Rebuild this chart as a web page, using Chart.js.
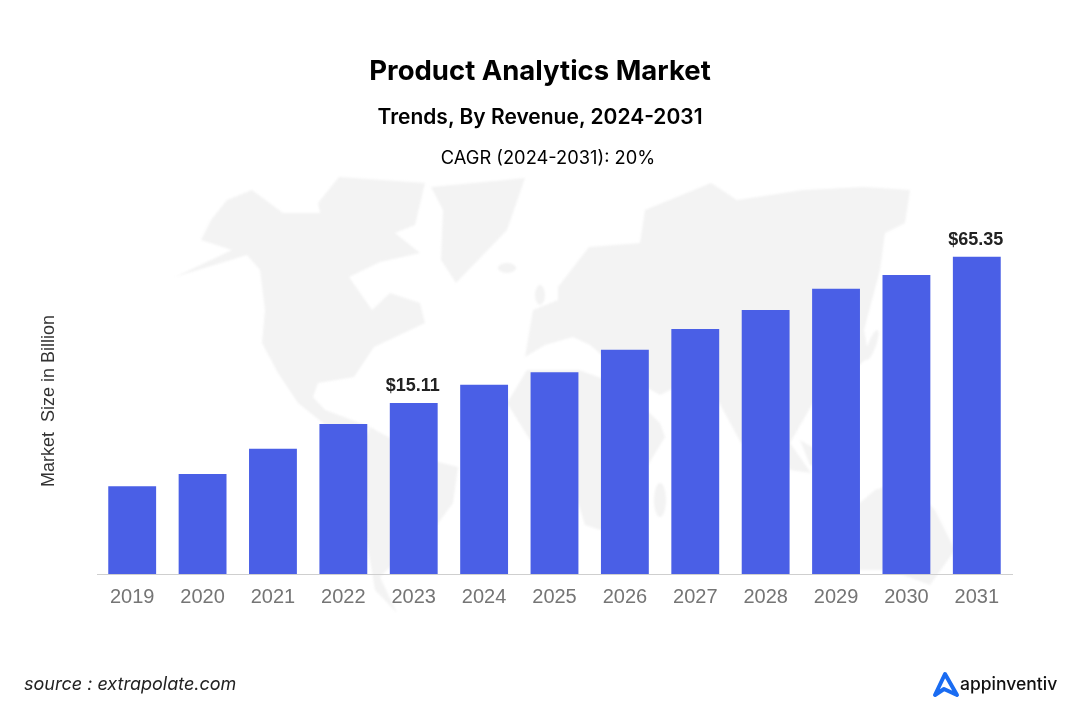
<!DOCTYPE html>
<html>
<head>
<meta charset="utf-8">
<title>Product Analytics Market</title>
<script src="https://cdn.jsdelivr.net/npm/chart.js@4/dist/chart.umd.min.js"></script>
<style>
  html, body { margin: 0; padding: 0; background: #fff; }
  #page { position: relative; width: 1080px; height: 722px; overflow: hidden; }
  #map, #chart, #logo { position: absolute; left: 0; top: 0; }
  .txt { position: absolute; left: 0; width: 1080px; text-align: center; color: #000; font-family: Inter, sans-serif; white-space: nowrap; }
  #head1 { top: 52px; font-size: 27.5px; font-weight: 700; line-height: 36px; }
  #head2 { top: 103px; font-size: 21px; font-weight: 600; line-height: 28px; }
  #head3 { top: 145px; left: 8px; font-size: 18.3px; font-weight: 400; line-height: 24px; }
  #source { top: 672px; left: 24px; width: auto; font-size: 18px; font-style: italic; color: #222; line-height: 24px; }
  #brand { top: 671px; left: 960px; width: auto; font-size: 17.5px; font-weight: 500; color: #111; line-height: 26px; }
</style>
</head>
<body>
<div id="page">
  <svg id="map" width="1080" height="722" fill="#f3f3f3" style="filter: blur(0.8px)">
    <path d="M252 190 L227 200 L211 220 L201 240 L232 250 L175 277 L247 255 L260 270 L265 310 L262 343 L278 373 L298 403 L323 423 L339 437 L370 427 L352 420 L325 410 L313 397 L318 383 L354 377 L374 347 L425 323 L420 303 L390 293 L372 310 L349 277 L380 262 L420 253 L395 233 L323 213 L283 213 Z"/>
    <path d="M318 203 L339 177 L425 183 L415 225 L385 237 L323 227 Z"/>
    <path d="M431 187 L525 178 L507 230 L456 283 L441 260 L443 210 Z"/>
    <ellipse cx="507" cy="268" rx="9" ry="5"/>
    <path d="M864 187 L910 190 L905 223 L885 233 L880 270 L864 330 L869 357 L813 403 L790 443 L811 473 L790 470 L770 420 L741 443 L715 395 L680 385 L660 395 L625 375 L590 345 L573 337 L545 345 L525 357 L533 310 L558 300 L558 287 L589 247 L640 243 L645 210 L711 183 L737 200 L803 190 Z"/>
    <path d="M507 403 L527 370 L579 370 L620 385 L660 423 L665 437 L645 470 L638 500 L600 530 L585 525 L565 460 L530 440 Z"/>
    <ellipse cx="660" cy="500" rx="6" ry="17"/>
    <path d="M370 427 L430 460 L458 467 L453 503 L433 530 L400 557 L380 577 L397 613 L375 590 L365 530 L367 503 L358 460 Z"/>
    <path d="M840 520 L875 490 L905 480 L935 510 L955 550 L930 585 L890 570 L850 570 Z"/>
    <path d="M800 440 L850 470 L860 480 L810 465 Z"/>
    <ellipse cx="540" cy="295" rx="5" ry="10"/>
    <ellipse cx="872" cy="345" rx="4" ry="16" transform="rotate(20 872 345)"/>
  </svg>
  <canvas id="chart" width="1080" height="722"></canvas>
  <div class="txt" id="head1">Product Analytics Market</div>
  <div class="txt" id="head2">Trends, By Revenue, 2024-2031</div>
  <div class="txt" id="head3">CAGR (2024-2031): 20%</div>
  <div class="txt" id="source">source : extrapolate.com</div>
  <svg id="logo" width="1080" height="722" fill="none">
    <path d="M935 695 L945 674 L957 695 L944 689 Z" stroke="#1a6cf2" stroke-width="4" stroke-linejoin="round"/>
  </svg>
  <div class="txt" id="brand">appinventiv</div>
</div>
<script>
var years = ['2019', '2020', '2021', '2022', '2023', '2024', '2025', '2026', '2027', '2028', '2029', '2030', '2031'];
// on the scale of the 2031 bar. the printed $15.11 does not fit that scale
var revenue = [18.1, 20.6, 25.8, 30.9, 35.25, 39.0, 41.6, 46.2, 50.5, 54.4, 58.8, 61.6, 65.35];
var barLabels = ['', '', '', '', '$15.11', '', '', '', '', '', '', '', '$65.35'];
var yMax = 71.3;

var labelPlugin = {
  id: 'barLabels',
  afterDatasetsDraw: function (chart) {
    var ctx = chart.ctx;
    var bars = chart.getDatasetMeta(0).data;
    ctx.save();
    ctx.font = 'bold 18px "Liberation Sans"';
    ctx.fillStyle = '#222';
    ctx.textAlign = 'center';
    ctx.textBaseline = 'middle';
    barLabels.forEach(function (label, i) {
      if (label) {
        ctx.fillText(label, bars[i].x - 1, bars[i].y - 17);
      }
    });
    ctx.restore();
  }
};

new Chart(document.getElementById('chart').getContext('2d'), {
  type: 'bar',
  data: {
    labels: years,
    datasets: [{
      label: 'Market Size in Billion',
      data: revenue,
      backgroundColor: '#4a5fe6',
      barPercentage: 0.68,
      categoryPercentage: 1
    }]
  },
  options: {
    responsive: false,
    animation: false,
    layout: { padding: { left: 38, right: 68, top: 228, bottom: 108 } },
    plugins: {
      legend: { display: false },
      title: { display: false },
      tooltip: { enabled: false }
    },
    scales: {
      x: {
        grid: { display: false },
        border: { display: true, color: '#cfcfcf', width: 1 },
        ticks: {
          color: '#757575',
          font: { family: '"Liberation Sans"', size: 20 },
          maxRotation: 0,
          autoSkip: false,
          padding: 3
        },
        afterFit: function (scale) { scale.height = 40; }
      },
      y: {
        min: 0,
        max: yMax,
        grid: { display: false },
        border: { display: false },
        ticks: { display: false },
        title: {
          display: true,
          text: 'Market  Size in Billion',
          color: '#333',
          font: { family: '"Liberation Sans"', size: 18 },
          padding: 0
        },
        afterFit: function (scale) { scale.width = 59; }
      }
    }
  },
  plugins: [labelPlugin]
});
</script>
</body>
</html>
